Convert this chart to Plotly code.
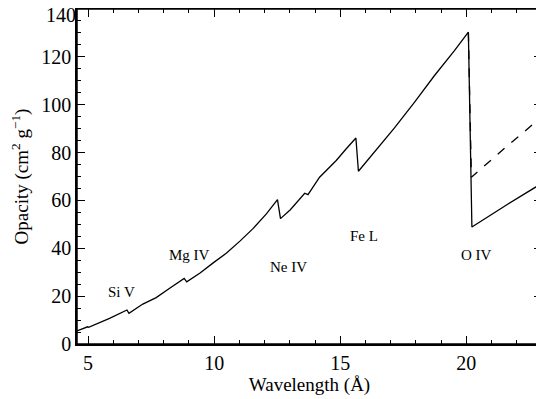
import plotly.graph_objects as go

# Solid curve: total opacity
wl_solid = [4.56, 4.98, 5.02, 5.85, 6.54, 6.62, 7.17, 7.70, 8.22, 8.81, 8.91,
            9.44, 9.96, 10.49, 11.02, 11.54, 12.07, 12.51,
            12.63, 13.02, 13.59, 13.72, 14.18, 14.84, 15.23, 15.62, 15.72,
            16.36, 17.15, 17.94, 18.73, 19.52, 20.08,
            20.22, 21.56, 23.0]
op_solid = [5.5, 7.2, 7.0, 10.7, 14.2, 12.8, 16.7, 19.4, 23.2, 27.4, 26.0,
            29.7, 33.9, 38.0, 43.0, 48.2, 54.4, 60.3,
            52.4, 56.1, 63.0, 62.4, 69.7, 76.7, 81.5, 86.1, 72.2,
            80.1, 90.3, 101.0, 112.1, 122.5, 130.3,
            48.9, 57.9, 67.2]

# Dashed curve: beyond O IV edge
wl_dash = [20.08, 20.20, 21.56, 23.0]
op_dash = [130.3, 69.7, 82.2, 95.0]

# Edge labels
label_text = ["Si V", "Mg IV", "Ne IV", "Fe L", "O IV"]
label_x = [6.31, 9.01, 12.93, 15.96, 20.42]
label_y = [21.8, 37.1, 32.2, 45.0, 37.1]

x_ticks = [5, 10, 15, 20]
y_ticks = [0, 20, 40, 60, 80, 100, 120, 140]
y_labels = ["0", "20", "40", "60", "80", "100", "120", ""]
y_top_tick = [140]
y_top_label = ["140"]

X_RANGE = [4.56, 23.0]
Y_RANGE = [0, 140]
FONT = "Liberation Serif"

fig = go.Figure()
fig.add_trace(go.Scatter(x=wl_solid, y=op_solid, mode="lines",
                         line=dict(color="black", width=1.3), showlegend=False))
fig.add_trace(go.Scatter(x=wl_dash, y=op_dash, mode="lines",
                         line=dict(color="black", width=1.3, dash="dash"), showlegend=False))
# empty traces so the frame axes (top / right) and the top-label axis are drawn
fig.add_trace(go.Scatter(x=[None], y=[None], xaxis="x2", yaxis="y2", mode="lines",
                         showlegend=False, hoverinfo="skip"))
fig.add_trace(go.Scatter(x=[None], y=[None], xaxis="x", yaxis="y3", mode="lines",
                         showlegend=False, hoverinfo="skip"))

for t, x, y in zip(label_text, label_x, label_y):
    fig.add_annotation(x=x, y=y, text=t, showarrow=False,
                       font=dict(family=FONT, size=15, color="black"))

# plot frame
fig.add_shape(type="rect", xref="paper", yref="paper", x0=0, x1=1, y0=0, y1=1,
              line=dict(color="black", width=1.5), layer="above")

tick_style = dict(ticks="inside", ticklen=8, tickcolor="black", tickwidth=1.2)
line_style = dict(showline=True, linecolor="black", linewidth=1.5, showgrid=False,
                  zeroline=False, automargin=False)
tfont = dict(family=FONT, size=20, color="black")
minor_x = dict(dtick=1, ticks="inside", ticklen=4, tickcolor="black", tickwidth=1.2)
minor_y = dict(dtick=5, ticks="inside", ticklen=4, tickcolor="black", tickwidth=1.2)

fig.update_layout(
    xaxis=dict(range=X_RANGE, tickvals=x_ticks, tickfont=tfont, minor=minor_x,
               title=dict(text="Wavelength (Å)", font=dict(family=FONT, size=19, color="black"),
                          standoff=0),
               **tick_style, **line_style),
    xaxis2=dict(range=X_RANGE, overlaying="x", side="top", anchor="y2", tickvals=x_ticks,
                showticklabels=False, minor=minor_x, **tick_style, **line_style),
    yaxis=dict(range=Y_RANGE, tickvals=y_ticks, ticktext=y_labels, tickfont=tfont, minor=minor_y,
               title=dict(text="Opacity (cm<sup>2</sup> g<sup>−1</sup>)",
                          font=dict(family=FONT, size=19, color="black"), standoff=18),
               **tick_style, **line_style),
    yaxis2=dict(range=Y_RANGE, overlaying="y", side="right", anchor="x2", tickvals=y_ticks,
                showticklabels=False, minor=minor_y, **tick_style, **line_style),
    yaxis3=dict(range=Y_RANGE, overlaying="y", side="left", anchor="x", tickvals=y_top_tick,
                ticktext=y_top_label, tickfont=tfont, ticks="", showline=False, showgrid=False,
                zeroline=False, automargin=False, ticklabelshift=6,
                ticklabeloverflow="allow"),
)

# page body has an 8px margin, so the figure is offset by (8, 8)
fig.update_layout(width=536, height=391, margin=dict(l=69, r=2, t=1, b=55),
                  template="none", showlegend=False,
                  font=dict(family=FONT, color="black"),
                  plot_bgcolor="white", paper_bgcolor="white")

fig.write_html("out.html")
